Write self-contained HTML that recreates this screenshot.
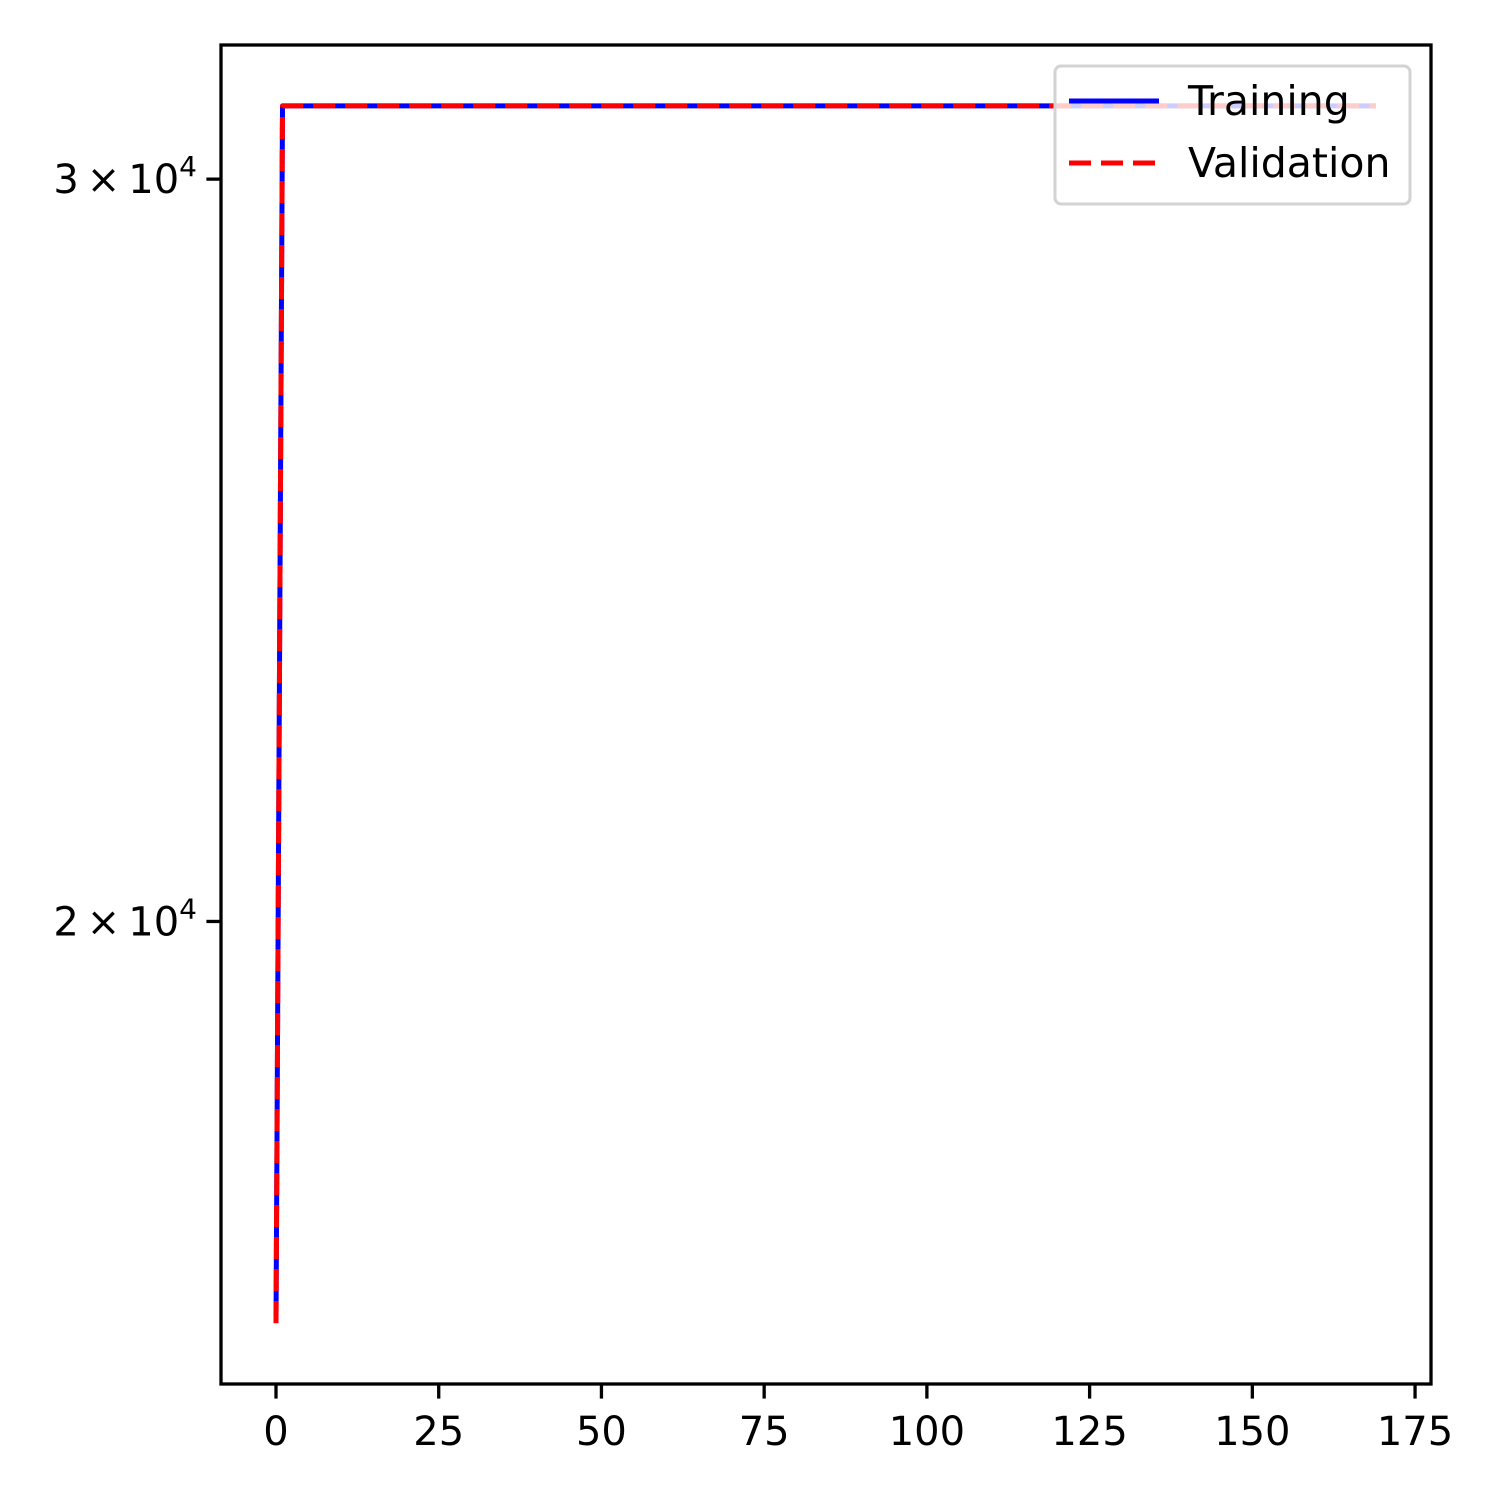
<!DOCTYPE html>
<html><head><meta charset="utf-8"><style>
html,body{margin:0;padding:0;background:#fff;}
svg{display:block;font-family:"DejaVu Sans","Liberation Sans",sans-serif;}
</style></head><body>
<svg id="chart" width="1500" height="1500" viewBox="0 0 1500 1500">
<rect x="0" y="0" width="1500" height="1500" fill="#fff"/>
<g id="plot"></g>
<g id="axes"></g>
<g id="legend">
<rect x="1055" y="66" width="355" height="138" rx="6" fill="rgba(255,255,255,0.8)" stroke="#d3d3d3" stroke-width="3"/>
<line x1="1069" y1="101" x2="1159" y2="101" stroke="#0000ff" stroke-width="5"/>
<text x="1188" y="115" font-size="41">Training</text>
<line x1="1069" y1="163" x2="1159" y2="163" stroke="#ff0000" stroke-width="5" stroke-dasharray="22,10"/>
<text x="1188" y="177" font-size="41">Validation</text>
</g>
</svg>
<script>
const epochs = [];
for (let i = 0; i < 170; i++) epochs.push(i);
const trainLoss = [16060,31225,31225,31225,31225,31225,31225,31225,31225,31225,31225,31225,31225,31225,31225,31225,31225,31225,31225,31225,31225,31225,31225,31225,31225,31225,31225,31225,31225,31225,31225,31225,31225,31225,31225,31225,31225,31225,31225,31225,31225,31225,31225,31225,31225,31225,31225,31225,31225,31225,31225,31225,31225,31225,31225,31225,31225,31225,31225,31225,31225,31225,31225,31225,31225,31225,31225,31225,31225,31225,31225,31225,31225,31225,31225,31225,31225,31225,31225,31225,31225,31225,31225,31225,31225,31225,31225,31225,31225,31225,31225,31225,31225,31225,31225,31225,31225,31225,31225,31225,31225,31225,31225,31225,31225,31225,31225,31225,31225,31225,31225,31225,31225,31225,31225,31225,31225,31225,31225,31225,31225,31225,31225,31225,31225,31225,31225,31225,31225,31225,31225,31225,31225,31225,31225,31225,31225,31225,31225,31225,31225,31225,31225,31225,31225,31225,31225,31225,31225,31225,31225,31225,31225,31225,31225,31225,31225,31225,31225,31225,31225,31225,31225,31225,31225,31225,31225,31225,31225,31225];
const valLoss = [16060,31225,31225,31225,31225,31225,31225,31225,31225,31225,31225,31225,31225,31225,31225,31225,31225,31225,31225,31225,31225,31225,31225,31225,31225,31225,31225,31225,31225,31225,31225,31225,31225,31225,31225,31225,31225,31225,31225,31225,31225,31225,31225,31225,31225,31225,31225,31225,31225,31225,31225,31225,31225,31225,31225,31225,31225,31225,31225,31225,31225,31225,31225,31225,31225,31225,31225,31225,31225,31225,31225,31225,31225,31225,31225,31225,31225,31225,31225,31225,31225,31225,31225,31225,31225,31225,31225,31225,31225,31225,31225,31225,31225,31225,31225,31225,31225,31225,31225,31225,31225,31225,31225,31225,31225,31225,31225,31225,31225,31225,31225,31225,31225,31225,31225,31225,31225,31225,31225,31225,31225,31225,31225,31225,31225,31225,31225,31225,31225,31225,31225,31225,31225,31225,31225,31225,31225,31225,31225,31225,31225,31225,31225,31225,31225,31225,31225,31225,31225,31225,31225,31225,31225,31225,31225,31225,31225,31225,31225,31225,31225,31225,31225,31225,31225,31225,31225,31225,31225,31225];
const xTicks = [0,25,50,75,100,125,150,175];
const yTicks = [20000,30000];
const yTickLabels = ["2","3"];

const NS = "http://www.w3.org/2000/svg";
const L = 221, R = 1431, T = 45, B = 1384;
const xs = epochs.concat([]);
const xmin0 = Math.min(...xs), xmax0 = Math.max(...xs);
const xpad = (xmax0 - xmin0) * 0.05;
const xmin = xmin0 - xpad, xmax = xmax0 + xpad;
const allY = trainLoss.concat(valLoss).map(v => Math.log10(v));
const ymin0 = Math.min(...allY), ymax0 = Math.max(...allY);
const ypad = (ymax0 - ymin0) * 0.05;
const ymin = ymin0 - ypad, ymax = ymax0 + ypad;
function xScale(v){ return L + (v - xmin) / (xmax - xmin) * (R - L); }
function yScale(v){ return B - (Math.log10(v) - ymin) / (ymax - ymin) * (B - T); }
function mk(tag, attrs){ const e = document.createElementNS(NS, tag); for (const k in attrs) e.setAttribute(k, attrs[k]); return e; }

const plot = document.getElementById('plot');
function series(data, color, dash, name){
  const d = data.map((v,i)=>(i?'L':'M')+xScale(epochs[i]).toFixed(2)+','+yScale(v).toFixed(2)).join(' ');
  const p = mk('path', {d:d, fill:'none', stroke:color, 'stroke-width':5, 'stroke-linejoin':'round'});
  if (dash) p.setAttribute('stroke-dasharray', dash);
  
  
  plot.appendChild(p);
}
series(trainLoss, '#0000ff', null, 'training-line');
series(valLoss, '#ff0000', '22,10', 'validation-line');

const axes = document.getElementById('axes');
const frame = mk('rect', {x:L, y:T, width:R-L, height:B-T, fill:'none', stroke:'#000', 'stroke-width':3.3});


axes.appendChild(frame);
xTicks.forEach(t => {
  const x = xScale(t);
  const tk = mk('line', {x1:x, y1:B, x2:x, y2:B+14.6, stroke:'#000', 'stroke-width':3.3});
  
  
  axes.appendChild(tk);
  const tx = mk('text', {x:x, y:B+61, 'font-size':40, 'text-anchor':'middle'});
  tx.textContent = String(t);
  
  
  axes.appendChild(tx);
});
yTicks.forEach((t, i) => {
  const y = yScale(t);
  const tk = mk('line', {x1:L-14.6, y1:y, x2:L, y2:y, stroke:'#000', 'stroke-width':3.3});
  
  
  axes.appendChild(tk);
  const tx = mk('text', {x:L-24, y:y+14, 'font-size':40, 'text-anchor':'end'});
  
  
  const s1 = mk('tspan', {}); s1.textContent = yTickLabels[i] + '\u2009\u00d7\u200910';
  const s2 = mk('tspan', {'font-size':28, dy:-17}); s2.textContent = '4';
  tx.appendChild(s1); tx.appendChild(s2);
  axes.appendChild(tx);
});
</script>
</body></html>
